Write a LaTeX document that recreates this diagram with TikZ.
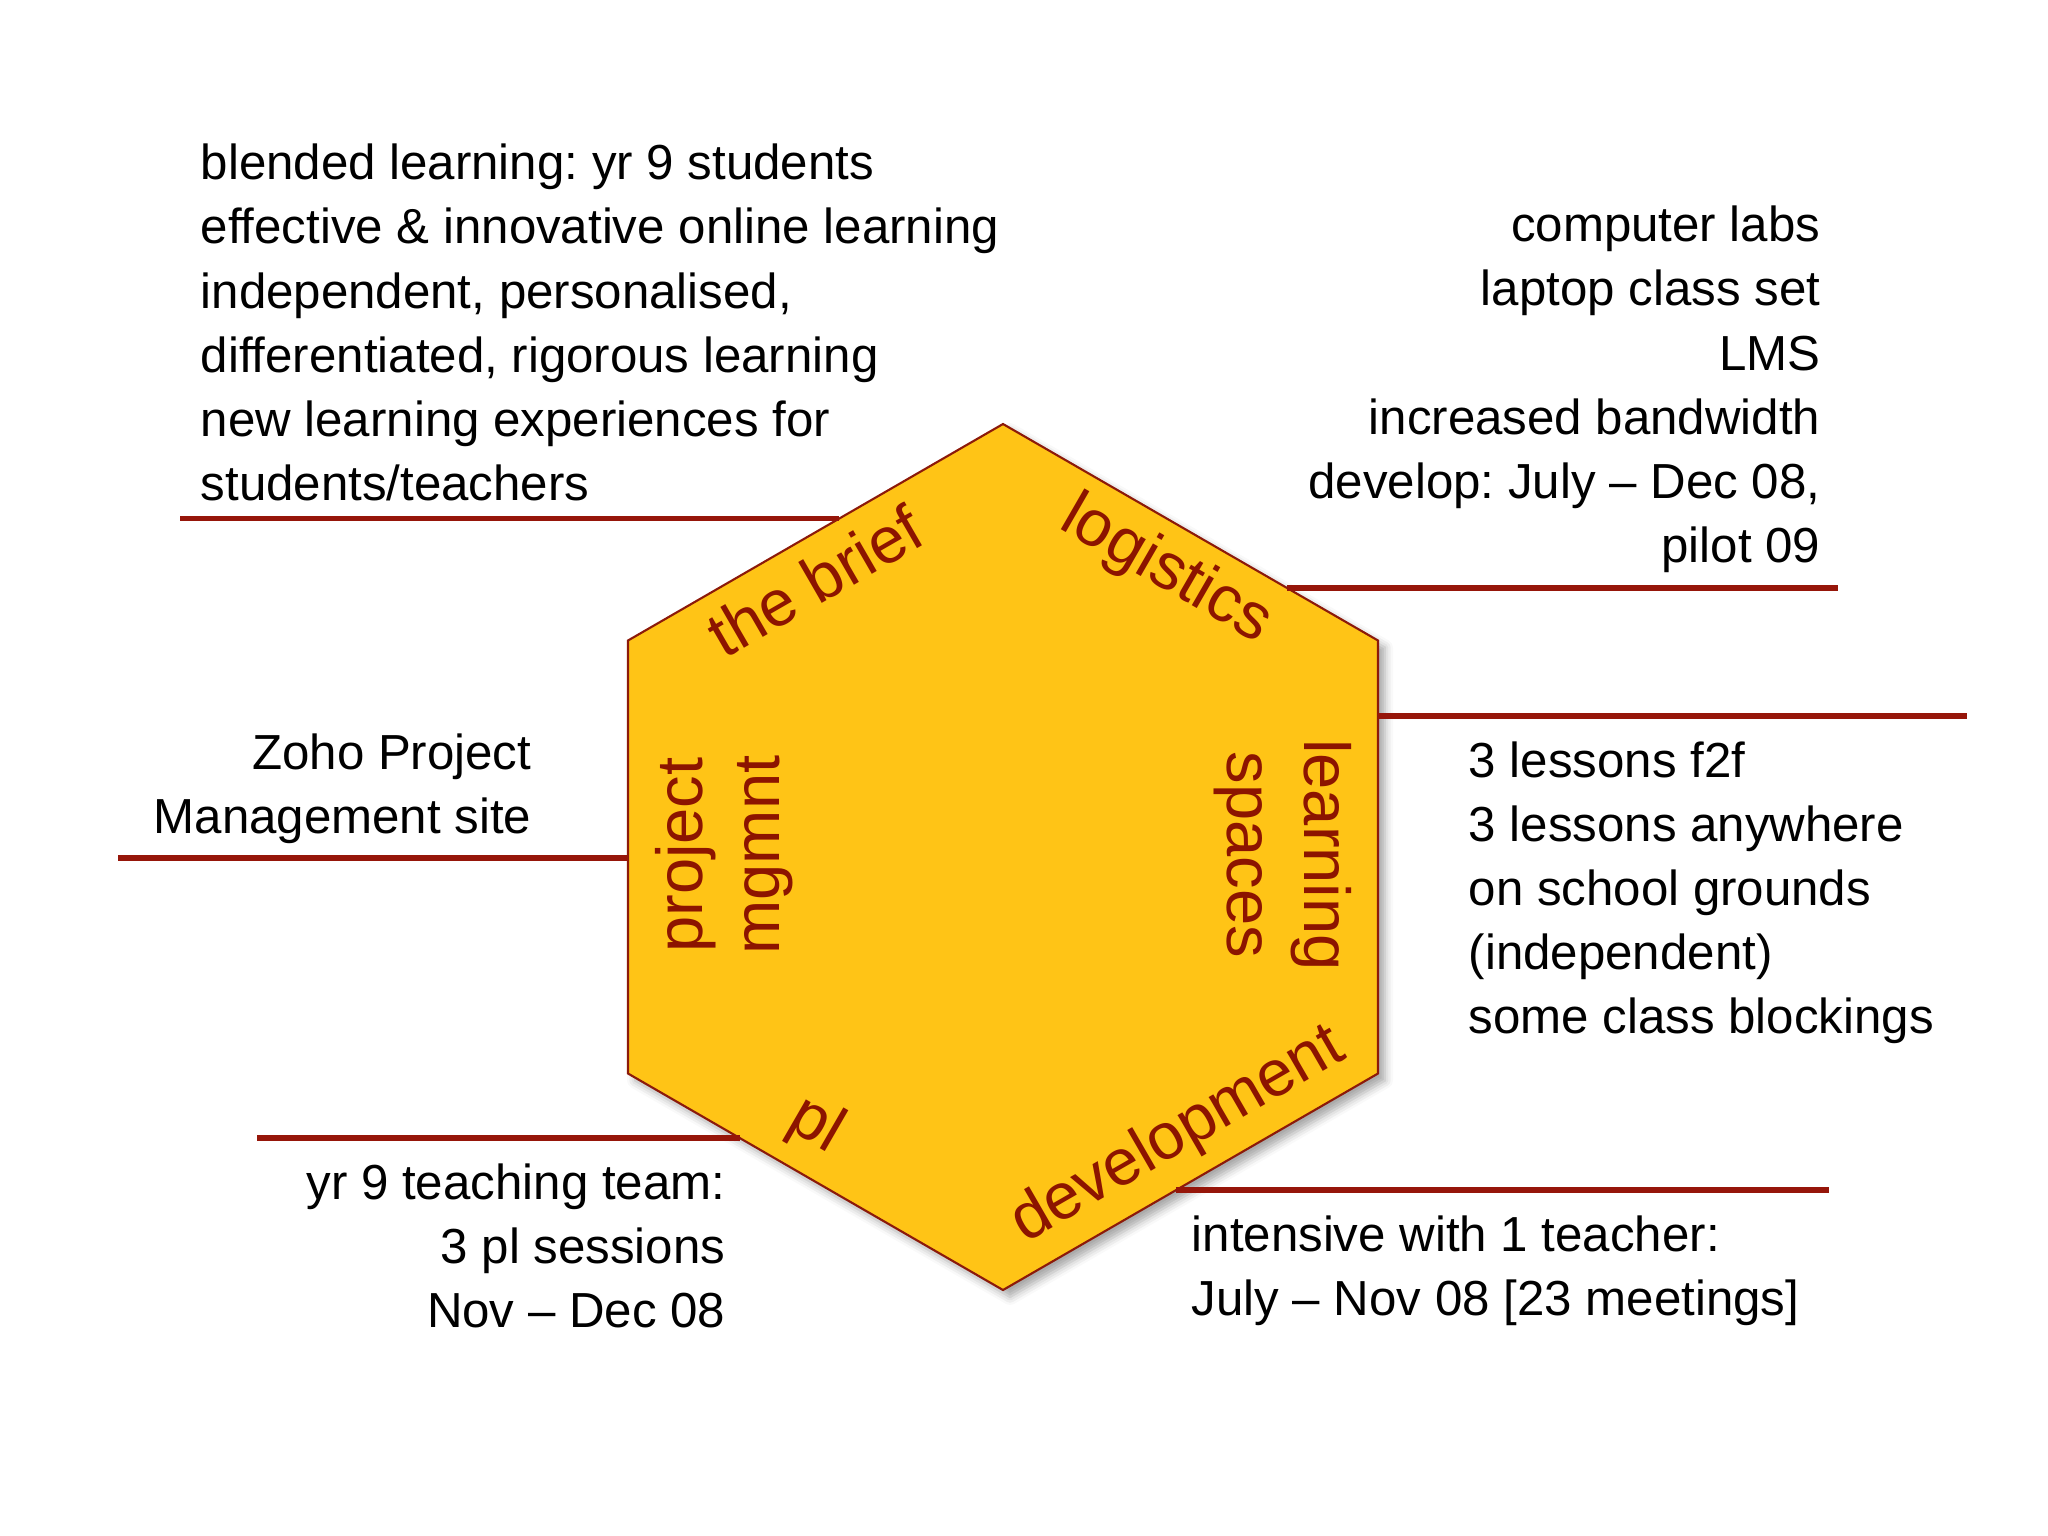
\documentclass[tikz,border=0pt]{standalone}
\usepackage{fontspec}
\setmainfont{Liberation Sans}
\usepackage{tikz}
\usetikzlibrary{calc}
\usetikzlibrary{shadows.blur}
\definecolor{hexfill}{RGB}{255,196,22}
\definecolor{hexline}{RGB}{140,26,10}
\definecolor{leadred}{RGB}{150,22,10}
\definecolor{labred}{RGB}{140,20,0}
\frenchspacing

\begin{document}
\begin{tikzpicture}
    [x=0.01cm, y=-0.01cm,
     hexa/.style={fill=hexfill, draw=hexline, line width=0.6pt,
       blur shadow={shadow xshift=0.07cm, shadow yshift=-0.07cm,
         shadow blur radius=0.08cm, shadow opacity=35}},
     lead/.style={draw=leadred, line width=1.6pt},
     note/.style={inner sep=0pt, font=\fontsize{14}{18.2}\selectfont},
     side/.style={inner sep=0pt, text=labred, align=center,
       font=\fontsize{18.5}{22}\selectfont}]
    \useasboundingbox (0,0) rectangle (2048,1536);

    \coordinate (t) at (1003,424);
    \coordinate (ur) at (1378,640.5);
    \coordinate (lr) at (1378,1073.5);
    \coordinate (b) at (1003,1290);
    \coordinate (ll) at (628,1073.5);
    \coordinate (ul) at (628,640.5);
    \draw [hexa] (t) -- (ur) -- (lr) -- (b) -- (ll) -- (ul) -- cycle;

    \node [side, rotate=30] (lbrief) at (815,581) {the brief};
    \node [side, rotate=-30] (llogi) at (1166,571) {logistics};
    \node [side, rotate=90] (lproj) at (724,855) {project\\mgmnt};
    \node [side, rotate=-90] (lspace) at (1283,855) {learning\\spaces};
    \node [side, rotate=-30] (lpl) at (816,1126) {pl};
    \node [side, rotate=30] (ldev) at (1178,1136) {development};

    \node [note, anchor=base west, align=left] (brief) at (200,500)
      {blended learning: yr 9 students\\effective \& innovative online learning\\independent, personalised,\\differentiated, rigorous learning\\new learning experiences for\\students/teachers};
    \node [note, anchor=base east, align=right] (logi) at (1821,562)
      {computer labs\\laptop class set\\LMS\\increased bandwidth\\develop: July -- Dec 08,\\pilot 09};
    \node [note, anchor=base west, align=left] (space) at (1468,1033)
      {3 lessons f2f\\3 lessons anywhere\\on school grounds\\(independent)\\some class blockings};
    \node [note, anchor=base east, align=right] (zoho) at (532,833)
      {Zoho Project\\Management site};
    \node [note, anchor=base east, align=right] (team) at (726,1327)
      {yr 9 teaching team:\\3 pl sessions\\Nov -- Dec 08};
    \node [note, anchor=base west, align=left] (meet) at (1191,1315)
      {intensive with 1 teacher:\\July -- Nov 08 [23 meetings]};

    \coordinate (e1) at ($(ul)!0.5635!(t)$);
    \coordinate (e2) at ($(t)!0.7575!(ur)$);
    \coordinate (e3) at ($(ur)!0.174!(lr)$);
    \coordinate (e4) at ($(ul)!0.502!(ll)$);
    \coordinate (e5) at ($(ll)!0.298!(b)$);
    \coordinate (e6) at ($(lr)!0.538!(b)$);
    \coordinate (f1) at (180,0);
    \coordinate (f2) at (1838,0);
    \coordinate (f3) at (1967,0);
    \coordinate (f4) at (118,0);
    \coordinate (f5) at (257,0);
    \coordinate (f6) at (1829,0);

    \draw [lead] (e1) -- (f1 |- e1);
    \draw [lead] (e2) -- (f2 |- e2);
    \draw [lead] (e3) -- (f3 |- e3);
    \draw [lead] (e4) -- (f4 |- e4);
    \draw [lead] (e5) -- (f5 |- e5);
    \draw [lead] (e6) -- (f6 |- e6);
  \end{tikzpicture}
\end{document}
